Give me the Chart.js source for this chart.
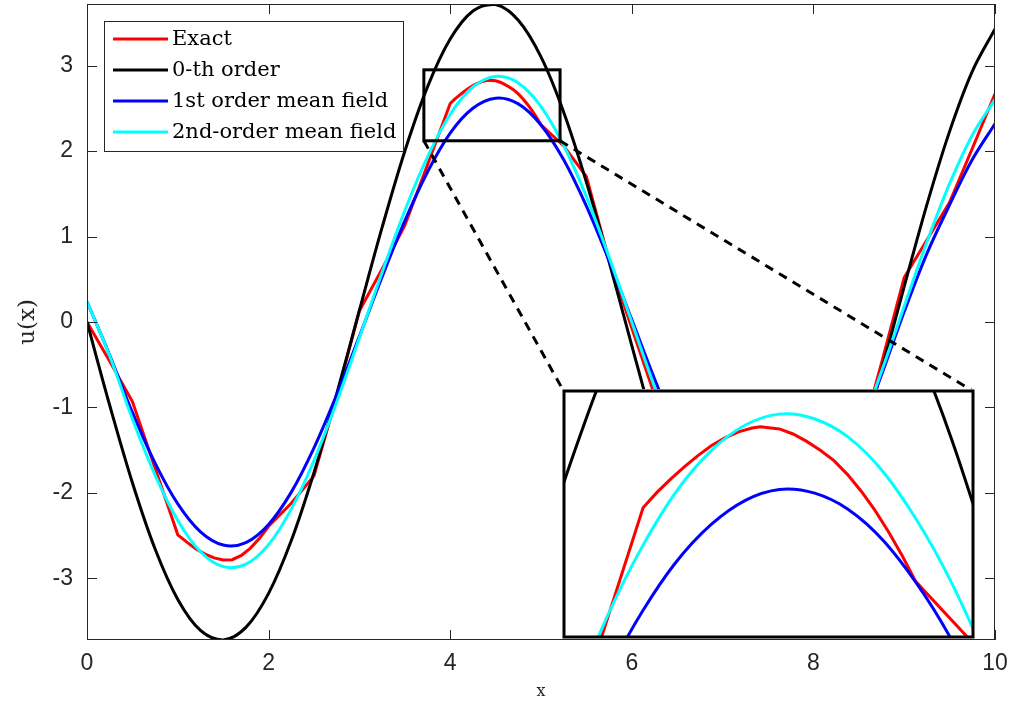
<!DOCTYPE html>
<html>
<head>
<meta charset="utf-8">
<script src="https://cdn.jsdelivr.net/npm/chart.js@4.4.0/dist/chart.umd.min.js"></script>
<style>
  body { margin: 0; background: #fff; }
  #wrap { position: relative; width: 1013px; height: 708px; }
  #insetChart { position: absolute; background: #fff; }
</style>
</head>
<body>
<div id="wrap">
  <canvas id="mainChart" width="1013" height="708"></canvas>
  <canvas id="insetChart"></canvas>
</div>
<script>
// grid shared by the smooth curves
var xs = [0, 0.25, 0.5, 0.75, 1, 1.25, 1.5, 1.75, 2, 2.25, 2.5, 2.75, 3, 3.25, 3.5, 3.75,
          4, 4.25, 4.5, 4.75, 5, 5.25, 5.5, 5.75, 6, 6.25, 6.5, 6.75, 7, 7.25, 7.5, 7.75,
          8, 8.25, 8.5, 8.75, 9, 9.25, 9.5, 9.75, 10];

// Exact solution (piecewise, with kinks)
var exactX = [0, 0.25, 0.5, 0.75, 1, 1.1, 1.2, 1.3, 1.4, 1.5, 1.6, 1.7, 1.8, 1.9, 2, 2.25, 2.5, 2.75, 3, 3.25,
              3.5, 3.75, 4, 4.05, 4.1, 4.15, 4.2, 4.25, 4.3, 4.35, 4.4, 4.43, 4.5, 4.55, 4.6, 4.65, 4.7, 4.75,
              4.8, 4.85, 4.9, 4.95, 5, 5.25, 5.5, 5.75, 6, 6.25, 6.5, 6.75, 7, 7.25, 7.5, 7.75, 8, 8.25,
              8.5, 8.75, 9, 9.25, 9.5, 9.75, 10];
var exactY = [0, -0.46, -0.93, -1.71, -2.49, -2.575, -2.655, -2.715, -2.76, -2.785, -2.78, -2.73, -2.645, -2.53, -2.39,
              -2.12, -1.80, -0.87, 0.13, 0.62, 1.13, 1.84, 2.556, 2.607, 2.652, 2.693, 2.731, 2.765, 2.792, 2.812,
              2.825, 2.829, 2.822, 2.805, 2.78, 2.75, 2.715, 2.668, 2.612, 2.548, 2.475, 2.395, 2.307, 2.06, 1.70,
              0.72, -0.07, -0.85, -1.58, -2.15, -2.55, -2.78, -2.83, -2.70, -2.40, -1.95, -1.45, -0.48, 0.52, 0.96,
              1.40, 2.03, 2.67];

var zerothY = [0, -0.974, -1.880, -2.655, -3.245, -3.608, -3.719, -3.572, -3.174, -2.556, -1.760, -0.840, 0.138, 1.106,
               1.998, 2.750, 3.310, 3.638, 3.714, 3.530, 3.101, 2.454, 1.636, 0.705, -0.276, -1.237, -2.113, -2.841,
               -3.371, -3.665, -3.704, -3.485, -3.022, -2.349, -1.511, -0.569, 0.414, 1.373, 2.230, 2.932, 3.428];

var firstY = [0.24, -0.389, -1.057, -1.651, -2.128, -2.455, -2.609, -2.580, -2.368, -1.990, -1.472, -0.850, -0.167, 0.527,
              1.182, 1.755, 2.210, 2.500, 2.618, 2.552, 2.305, 1.897, 1.355, 0.716, 0.028, -0.664, -1.308, -1.857,
              -2.278, -2.538, -2.620, -2.517, -2.240, -1.85, -1.30, -0.62, 0.12, 0.80, 1.37, 1.90, 2.32];

var secondY = [0.24, -0.398, -1.135, -1.792, -2.322, -2.687, -2.862, -2.833, -2.604, -2.189, -1.620, -0.936, -0.184, 0.580,
               1.302, 1.931, 2.430, 2.749, 2.872, 2.796, 2.520, 2.065, 1.466, 0.759, 0.000, -0.759, -1.466, -2.065,
               -2.520, -2.796, -2.874, -2.747, -2.426, -1.933, -1.303, -0.580, 0.184, 0.935, 1.618, 2.186, 2.604];

var seriesNames = ["Exact", "0-th order", "1st order mean field", "2nd-order mean field"];
var seriesColors = ["#ff0000", "#000000", "#0000ff", "#00ffff"];

var xTicks = [0, 2, 4, 6, 8, 10];
var yTicks = [-3, -2, -1, 0, 1, 2, 3];
var xRange = [0, 10];
var yRange = [-3.72, 3.72];

// zoomed window and where the inset sits (data units of the main axes)
var zoomX = [3.71, 5.21];
var zoomY = [2.12, 2.95];
var insetX = [5.25, 9.76];
var insetY = [-3.68, -0.81];

var axisColor = "#262626";
var tickFont = { family: "'Liberation Sans', Arial, sans-serif", size: 23 };

function pairs(xv, yv) {
  return xv.map(function (x, i) { return { x: x, y: yv[i] }; });
}

function makeDatasets() {
  var series = [pairs(exactX, exactY), pairs(xs, zerothY), pairs(xs, firstY), pairs(xs, secondY)];
  return series.map(function (d, i) {
    return {
      label: seriesNames[i],
      data: d,
      borderColor: seriesColors[i],
      backgroundColor: seriesColors[i],
      borderWidth: 3,
      pointRadius: 0,
      fill: false,
      tension: i === 0 ? 0 : 0.35,
      order: 4 - i
    };
  });
}

var framePlugin = {
  id: "frame",
  afterDraw: function (chart) {
    var ctx = chart.ctx;
    var a = chart.chartArea;
    var sx = chart.scales.x, sy = chart.scales.y;
    ctx.save();

    // box + inward ticks
    ctx.strokeStyle = axisColor;
    ctx.lineWidth = 1;
    ctx.strokeRect(Math.round(a.left) + 0.5, Math.round(a.top) + 0.5,
                   Math.round(a.right - a.left) - 1, Math.round(a.bottom - a.top) - 1);
    ctx.beginPath();
    xTicks.forEach(function (v) {
      var p = Math.round(sx.getPixelForValue(v)) + 0.5;
      ctx.moveTo(p, a.bottom); ctx.lineTo(p, a.bottom - 10);
      ctx.moveTo(p, a.top); ctx.lineTo(p, a.top + 10);
    });
    yTicks.forEach(function (v) {
      var p = Math.round(sy.getPixelForValue(v)) + 0.5;
      ctx.moveTo(a.left, p); ctx.lineTo(a.left + 10, p);
      ctx.moveTo(a.right, p); ctx.lineTo(a.right - 10, p);
    });
    ctx.stroke();

    // zoom window and connectors
    var zx0 = sx.getPixelForValue(zoomX[0]), zx1 = sx.getPixelForValue(zoomX[1]);
    var zy0 = sy.getPixelForValue(zoomY[0]), zy1 = sy.getPixelForValue(zoomY[1]);
    var ix0 = sx.getPixelForValue(insetX[0]), ix1 = sx.getPixelForValue(insetX[1]);
    var iy1 = sy.getPixelForValue(insetY[1]);
    ctx.strokeStyle = "#000";
    ctx.lineWidth = 3;
    ctx.strokeRect(zx0, zy1, zx1 - zx0, zy0 - zy1);
    ctx.setLineDash([9, 7]);
    ctx.beginPath();
    ctx.moveTo(zx0, zy0); ctx.lineTo(ix0, iy1);
    ctx.moveTo(zx1, zy0); ctx.lineTo(ix1, iy1);
    ctx.stroke();
    ctx.setLineDash([]);

    // legend
    var lx = 104, ly = 21, lw = 299, lh = 130;
    ctx.fillStyle = "#fff";
    ctx.fillRect(lx, ly, lw, lh);
    ctx.strokeStyle = axisColor;
    ctx.lineWidth = 1;
    ctx.strokeRect(lx + 0.5, ly + 0.5, lw, lh);
    ctx.font = "21px 'DejaVu Serif', serif";
    ctx.textBaseline = "middle";
    ctx.textAlign = "left";
    seriesNames.forEach(function (name, i) {
      var y = 39 + i * 31;
      ctx.strokeStyle = seriesColors[i];
      ctx.lineWidth = 3;
      ctx.beginPath();
      ctx.moveTo(113, y); ctx.lineTo(168, y);
      ctx.stroke();
      ctx.fillStyle = "#000";
      ctx.fillText(name, 172, y + 1);
    });

    // axis titles
    ctx.fillStyle = axisColor;
    ctx.textAlign = "center";
    ctx.font = "16px 'DejaVu Serif', serif";
    ctx.fillText("x", (a.left + a.right) / 2, 692);
    ctx.save();
    ctx.translate(28, (a.top + a.bottom) / 2);
    ctx.rotate(-Math.PI / 2);
    ctx.font = "23px 'DejaVu Serif', serif";
    ctx.fillText("u(x)", 0, 0);
    ctx.restore();

    ctx.restore();
  }
};

var mainChart = new Chart(document.getElementById("mainChart"), {
  type: "line",
  data: { datasets: makeDatasets() },
  options: {
    responsive: false,
    animation: false,
    devicePixelRatio: 1,
    layout: { padding: { left: 0, right: 18, top: 4, bottom: 0 } },
    plugins: { legend: { display: false }, tooltip: { enabled: false } },
    scales: {
      x: {
        type: "linear",
        min: xRange[0],
        max: xRange[1],
        grid: { display: false, drawTicks: false },
        border: { display: false },
        afterBuildTicks: function (s) { s.ticks = xTicks.map(function (v) { return { value: v }; }); },
        afterFit: function (s) { s.height = 68; s.paddingLeft = 0; s.paddingRight = 0; },
        ticks: { font: tickFont, color: axisColor, padding: 10, maxRotation: 0 }
      },
      y: {
        type: "linear",
        min: yRange[0],
        max: yRange[1],
        grid: { display: false, drawTicks: false },
        border: { display: false },
        afterBuildTicks: function (s) { s.ticks = yTicks.map(function (v) { return { value: v }; }); },
        afterFit: function (s) { s.width = 87; s.paddingTop = 0; s.paddingBottom = 0; },
        ticks: { font: tickFont, color: axisColor, padding: 14 }
      }
    }
  },
  plugins: [framePlugin]
});

// place the inset over the main axes
function placeInset() {
  var msx = mainChart.scales.x, msy = mainChart.scales.y;
  var pad = 2;
  var boxLeft = Math.round(msx.getPixelForValue(insetX[0])) - pad;
  var boxRight = Math.round(msx.getPixelForValue(insetX[1])) + pad;
  var boxTop = Math.round(msy.getPixelForValue(insetY[1])) - pad;
  var boxBottom = Math.round(msy.getPixelForValue(insetY[0])) + pad;
  var canvas = document.getElementById("insetChart");
  canvas.width = boxRight - boxLeft;
  canvas.height = boxBottom - boxTop;
  canvas.style.left = boxLeft + "px";
  canvas.style.top = boxTop + "px";

  var insetBorder = {
    id: "insetBorder",
    afterDraw: function (chart) {
      var a = chart.chartArea, ctx = chart.ctx;
      ctx.save();
      ctx.strokeStyle = "#000";
      ctx.lineWidth = 3;
      ctx.strokeRect(a.left, a.top, a.right - a.left, a.bottom - a.top);
      ctx.restore();
    }
  };

  new Chart(canvas, {
    type: "line",
    data: { datasets: makeDatasets() },
    options: {
      responsive: false,
      animation: false,
      devicePixelRatio: 1,
      layout: { padding: pad },
      plugins: { legend: { display: false }, tooltip: { enabled: false } },
      scales: {
        x: { type: "linear", min: zoomX[0], max: zoomX[1], display: false },
        y: { type: "linear", min: zoomY[0], max: zoomY[1], display: false }
      }
    },
    plugins: [insetBorder]
  });
}
placeInset();
</script>
</body>
</html>
